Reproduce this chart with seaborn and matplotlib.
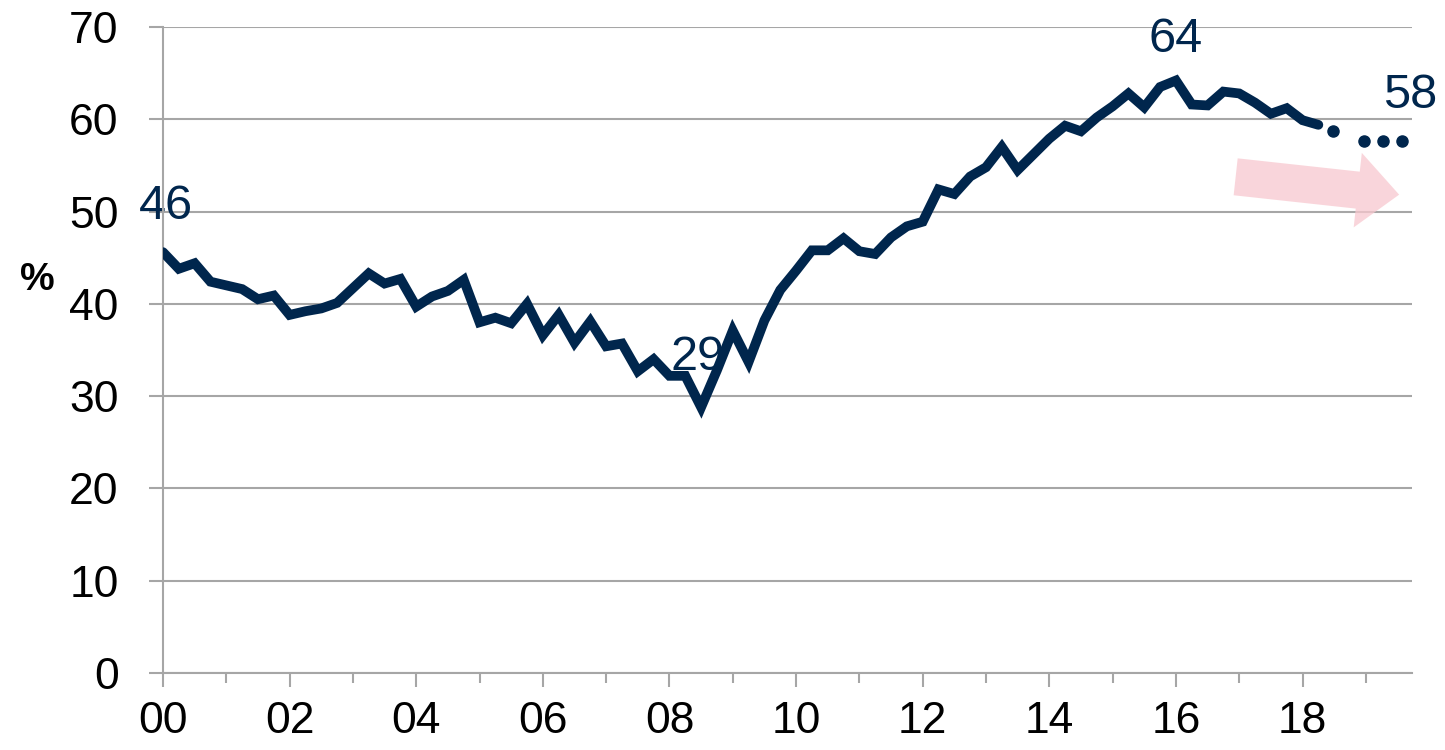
import numpy as np
import pandas as pd
import matplotlib
matplotlib.use("Agg")
import matplotlib.pyplot as plt
import seaborn as sns

# quarterly series, 2000Q1 .. 2018Q2 (%)
values = [45.6, 43.8, 44.4, 42.4, 42.0, 41.6, 40.5, 40.9,
          38.8, 39.2, 39.5, 40.1, 41.7, 43.3, 42.2, 42.7,
          39.7, 40.8, 41.4, 42.6, 38.0, 38.5, 37.9, 40.0,
          36.6, 38.8, 35.8, 38.1, 35.4, 35.7, 32.7, 34.0,
          32.2, 32.2, 28.8, 32.8, 37.1, 33.7, 38.2, 41.5,
          43.6, 45.8, 45.8, 47.1, 45.7, 45.4, 47.2, 48.4,
          48.9, 52.4, 51.9, 53.8, 54.8, 57.0, 54.5, 56.2,
          57.9, 59.3, 58.7, 60.2, 61.4, 62.8, 61.3, 63.5,
          64.2, 61.6, 61.5, 63.0, 62.8, 61.8, 60.6, 61.2,
          59.9, 59.4]
quarters = [i / 4 for i in range(len(values))]

# dotted projection
proj_x = [18.48, 18.97, 19.27, 19.57]
proj_y = [58.7, 57.7, 57.7, 57.7]

# labelled values
labels = ["46", "29", "64", "58"]
label_x = [0.05, 8.45, 16.0, 19.7]
label_y = [50.5, 34.2, 68.6, 62.6]

xtick_labels = ["00", "02", "04", "06", "08", "10", "12", "14", "16", "18"]

navy = "#00264D"
grey = "#A6A6A6"

sns.set_style("white")
plt.rcParams["font.family"] = ["Liberation Sans", "DejaVu Sans"]

fig = plt.figure(figsize=(14.45, 7.5), dpi=100)
ax = fig.add_axes([0.1128, 0.1027, 0.8644, 0.8613])

df = pd.DataFrame({"t": quarters, "v": values})
sns.lineplot(data=df, x="t", y="v", ax=ax, color=navy, lw=7,
             solid_joinstyle="miter", zorder=3)
ax.plot(proj_x, proj_y, ls="none", marker="o", ms=8, color=navy, zorder=3)

for t, x, y in zip(labels, label_x, label_y):
    ax.text(x, y, t, color=navy, fontsize=35, ha="center", va="center", zorder=2)

# pink arrow
ax.annotate("", xy=(19.57, 51.8), xytext=(16.9, 53.8),
            arrowprops=dict(arrowstyle="simple,head_length=1.2,head_width=2.16,tail_width=1.07",
                            color="#F8C8CF", alpha=0.75, lw=0, mutation_scale=25),
            zorder=1)

ax.set_xlim(0, 19.73)
ax.set_ylim(0, 70)
ax.set_yticks(range(0, 71, 10))
ax.set_xticks(range(0, 19, 2))
ax.set_xticklabels(xtick_labels)
ax.set_xticks(range(1, 20, 2), minor=True)
ax.yaxis.grid(True, color=grey, lw=1.5)
ax.set_axisbelow(True)
ax.set_xlabel("")
ax.set_ylabel("")

for s in ["top", "right"]:
    ax.spines[s].set_visible(False)
for s in ["left", "bottom"]:
    ax.spines[s].set_color(grey)
    ax.spines[s].set_linewidth(1.5)

ax.tick_params(axis="y", which="major", length=10, width=1.5, color=grey,
               labelsize=32, labelcolor="black", pad=22, left=True)
ax.tick_params(axis="x", which="major", length=10, width=1.5, color=grey,
               labelsize=32, labelcolor="black", pad=10, bottom=True, direction="out")
ax.tick_params(axis="x", which="minor", length=7, width=1.5, color=grey,
               bottom=True, direction="out")

fig.text(0.026, 0.627, "%", fontsize=28, fontweight="bold", color="black",
         ha="center", va="center")

fig.savefig("out.png", dpi=100)
